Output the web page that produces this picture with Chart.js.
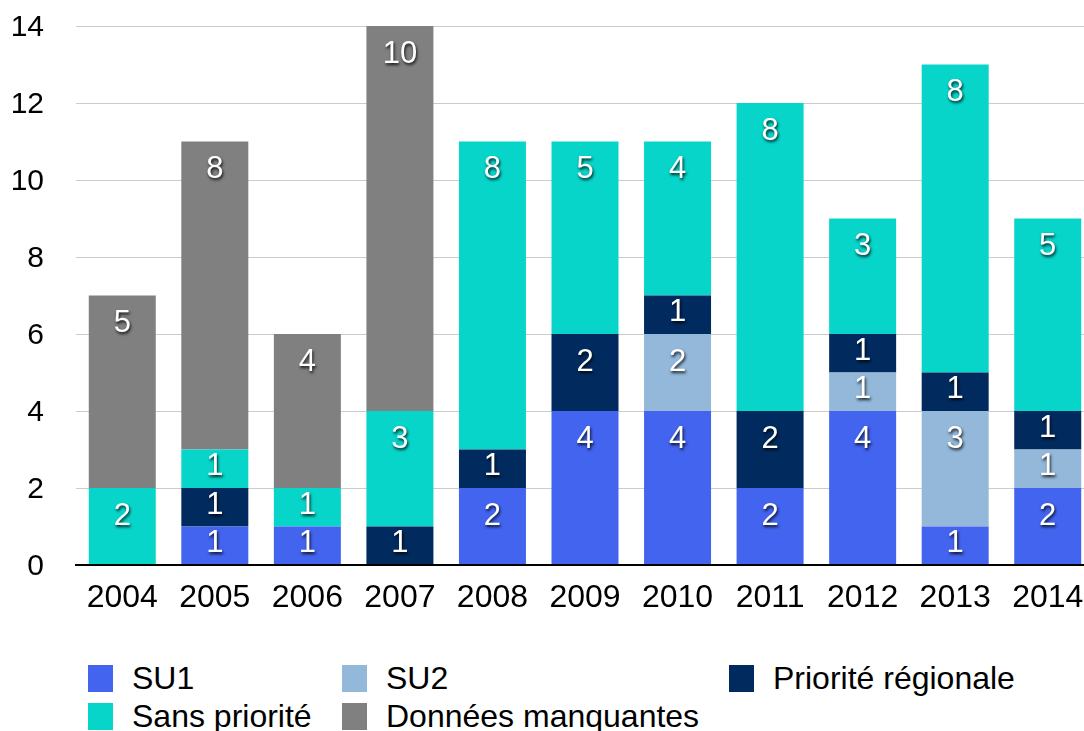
<!DOCTYPE html>
<html lang="fr">
<head>
<meta charset="utf-8">
<title>Priorités par année</title>
<script src="https://cdn.jsdelivr.net/npm/chart.js@4.4.1/dist/chart.umd.min.js"></script>
<style>
    html, body { margin: 0; padding: 0; background: #fff; overflow: hidden; }
    body { width: 1084px; height: 731px; position: relative; font-family: "Liberation Sans", Arial, Helvetica, sans-serif; }
    #grafico { position: absolute; left: 0; top: 0; }
    .leg { position: absolute; display: flex; align-items: center; height: 27px; font-size: 32px; color: #000; white-space: nowrap; }
    .leg span.cor { width: 25px; height: 27px; display: inline-block; margin-right: 19px; flex: none; }
</style>
</head>
<body>
<canvas id="grafico" width="1100" height="650"></canvas>

<div class="leg" style="left:88px; top:665px;"><span class="cor" style="background:#4264EF"></span>SU1</div>
<div class="leg" style="left:342px; top:665px;"><span class="cor" style="background:#94B8DA"></span>SU2</div>
<div class="leg" style="left:729px; top:665px;"><span class="cor" style="background:#012B5F"></span>Priorité régionale</div>
<div class="leg" style="left:88px; top:703px;"><span class="cor" style="background:#08D5CA"></span>Sans priorité</div>
<div class="leg" style="left:342px; top:703px;"><span class="cor" style="background:#808080"></span>Données manquantes</div>

<script>
// Données
const annees = ['2004', '2005', '2006', '2007', '2008', '2009', '2010', '2011', '2012', '2013', '2014'];
const su1 = [0, 1, 1, 0, 2, 4, 4, 2, 4, 1, 2];
const su2 = [0, 0, 0, 0, 0, 0, 2, 0, 1, 3, 1];
const prioriteRegionale = [0, 1, 0, 1, 1, 2, 1, 2, 1, 1, 1];
const sansPriorite = [2, 1, 1, 3, 8, 5, 4, 8, 3, 8, 5];
const donneesManquantes = [5, 8, 4, 10, 0, 0, 0, 0, 0, 0, 0];
const ticksY = [0, 2, 4, 6, 8, 10, 12, 14];

const police = '"Liberation Sans", Arial, Helvetica, sans-serif';
Chart.defaults.font.family = police;

// Étiquettes blanches avec ombre dans chaque segment
const etiquettes = {
    id: 'etiquettes',
    afterDatasetsDraw(chart) {
        const ctx = chart.ctx;
        ctx.save();
        ctx.font = '31px ' + police;
        ctx.textAlign = 'center';
        ctx.textBaseline = 'middle';
        ctx.fillStyle = '#ffffff';
        ctx.shadowColor = 'rgba(0,0,0,0.85)';
        ctx.shadowOffsetX = 1;
        ctx.shadowOffsetY = 2;
        ctx.shadowBlur = 3;
        chart.data.datasets.forEach((ds, i) => {
            const meta = chart.getDatasetMeta(i);
            meta.data.forEach((bar, j) => {
                const v = ds.data[j];
                if (!v) return;
                const h = bar.base - bar.y;
                const y = bar.y + Math.min(27, h / 2 - 3);
                ctx.fillText(String(v), bar.x, y + 1);
            });
        });
        ctx.restore();
    }
};

function serie(label, data, cor) {
    return {
        label: label,
        data: data,
        backgroundColor: cor,
        borderWidth: 0,
        barPercentage: 0.724,
        categoryPercentage: 1.0
    };
}

document.addEventListener('DOMContentLoaded', function() {
    const ctx = document.getElementById('grafico').getContext('2d');
    new Chart(ctx, {
        type: 'bar',
        data: {
            labels: annees,
            datasets: [
                serie('SU1', su1, '#4264EF'),
                serie('SU2', su2, '#94B8DA'),
                serie('Priorité régionale', prioriteRegionale, '#012B5F'),
                serie('Sans priorité', sansPriorite, '#08D5CA'),
                serie('Données manquantes', donneesManquantes, '#808080')
            ]
        },
        options: {
            responsive: false,
            animation: false,
            layout: { padding: { top: 26, right: 6, left: 0, bottom: 0 } },
            plugins: {
                legend: { display: false },
                tooltip: { enabled: false }
            },
            scales: {
                x: {
                    stacked: true,
                    grid: { display: false, drawTicks: false },
                    border: { display: true, color: '#000000', width: 2, z: 1 },
                    ticks: { color: '#000', font: { size: 32 }, padding: 14, maxRotation: 0, autoSkip: false },
                    afterFit(scale) { scale.height = 85; }
                },
                y: {
                    stacked: true,
                    min: 0,
                    max: 14,
                    afterBuildTicks(scale) { scale.ticks = ticksY.map(v => ({ value: v })); },
                    grid: {
                        drawTicks: false,
                        color: (c) => c.tick && c.tick.value === 0 ? 'rgba(0,0,0,0)' : '#cccccc',
                        lineWidth: 1
                    },
                    border: { display: false },
                    ticks: { color: '#000', font: { size: 30 }, padding: 32, labelOffset: 2 },
                    afterFit(scale) {
                        scale.width = 76;
                        // le padding des ticks ne doit pas décaler le haut du graphique
                        scale.paddingTop = 0;
                        scale.paddingBottom = 0;
                    }
                }
            }
        },
        plugins: [etiquettes]
    });
});
</script>
</body>
</html>
